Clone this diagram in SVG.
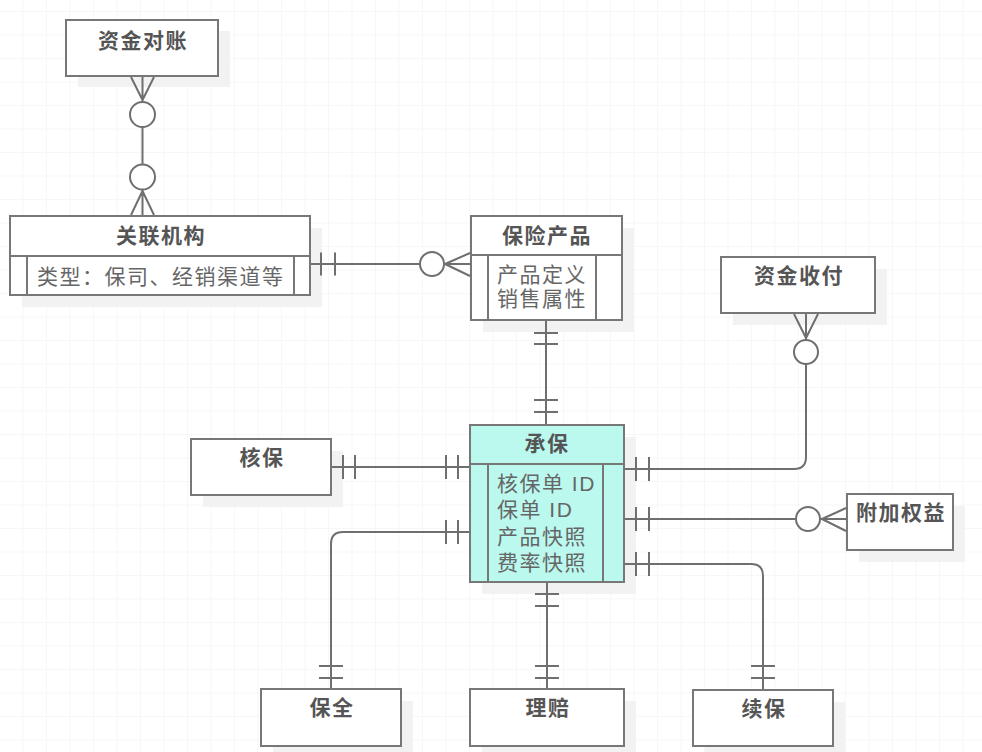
<svg xmlns="http://www.w3.org/2000/svg" width="982" height="752" viewBox="0 0 982 752">
<defs>
<pattern id="grid" x="0" y="12" width="23.5" height="23.5" patternUnits="userSpaceOnUse">
<path d="M23.5 0V23.5M0 23.5H23.5" fill="none" stroke="#f0f0f0" stroke-width="1"/>
</pattern>
<style>
.box{fill:#ffffff;stroke:#777777;stroke-width:2}
.hl{fill:#bbf9ef}
.sh{fill:#f2f2f2}
.ln{fill:none;stroke:#6f6f6f;stroke-width:2}
.dv{fill:none;stroke:#777777;stroke-width:2}
.ci{fill:#ffffff;stroke:#6f6f6f;stroke-width:2}
.t{font-family:"Noto Sans CJK SC","Noto Sans",sans-serif;font-size:21px;font-weight:bold;fill:#555555;text-anchor:middle;letter-spacing:1.5px}
.a{font-family:"Liberation Sans","Noto Sans CJK SC",sans-serif;font-size:21px;fill:#666666;letter-spacing:1.5px}
</style>
</defs>
<rect width="982" height="752" fill="#ffffff"/>
<rect width="982" height="752" fill="url(#grid)"/>

<g id="n-zijinduizhang">
<rect class="sh" x="78" y="31" width="152" height="56"/>
<rect class="box" x="66" y="20" width="152" height="56"/>
<text class="t" x="143" y="48">资金对账</text>
</g>

<g id="n-guanlianjigou">
<rect class="sh" x="22" y="228" width="300" height="79"/>
<rect class="box" x="10" y="216" width="300" height="79"/>
<path class="dv" d="M10 256H310M27 256V295M294 256V295"/>
<text class="t" x="161" y="243">关联机构</text>
<text class="a" x="37" y="284">类型：保司、经销渠道等</text>
</g>

<g id="n-baoxianchanpin">
<rect class="sh" x="483" y="228" width="151" height="104"/>
<rect class="box" x="471" y="216" width="151" height="104"/>
<path class="dv" d="M471 255H622M488 255V320M596 255V320"/>
<text class="t" x="547" y="243">保险产品</text>
<text class="a" x="497" y="282">产品定义<tspan x="497" dy="24">销售属性</tspan></text>
</g>

<g id="n-zijinshoufu">
<rect class="sh" x="733" y="269" width="154" height="56"/>
<rect class="box" x="721" y="257" width="154" height="56"/>
<text class="t" x="799" y="283">资金收付</text>
</g>

<g id="n-hebao">
<rect class="sh" x="203" y="451" width="140" height="56"/>
<rect class="box" x="191" y="439" width="140" height="56"/>
<text class="t" x="262" y="465">核保</text>
</g>

<g id="n-chengbao">
<rect class="sh" x="482" y="437" width="154" height="157"/>
<rect class="box hl" x="470" y="425" width="154" height="157"/>
<path class="dv" d="M470 464H624M488 464V582M603 464V582"/>
<text class="t" x="547" y="451">承保</text>
<text class="a" x="497" y="491">核保单 ID<tspan x="497" dy="26">保单 ID</tspan><tspan x="497" dy="26.5">产品快照</tspan><tspan x="497" dy="26">费率快照</tspan></text>
</g>

<g id="n-fujiaquanyi">
<rect class="sh" x="859" y="506" width="106" height="56"/>
<rect class="box" x="847" y="494" width="106" height="56"/>
<text class="t" x="901" y="520">附加权益</text>
</g>

<g id="n-baoquan">
<rect class="sh" x="273" y="701" width="140" height="57"/>
<rect class="box" x="261" y="689" width="140" height="57"/>
<text class="t" x="332" y="715">保全</text>
</g>

<g id="n-lipei">
<rect class="sh" x="482" y="701" width="154" height="57"/>
<rect class="box" x="470" y="689" width="154" height="57"/>
<text class="t" x="548" y="715">理赔</text>
</g>

<g id="n-xubao">
<rect class="sh" x="705" y="702" width="140" height="56"/>
<rect class="box" x="693" y="690" width="140" height="56"/>
<text class="t" x="764" y="716">续保</text>
</g>

<g id="connectors">
<!-- 资金对账 - 关联机构 -->
<path class="ln" d="M142.5 100L131 77M142.5 100L154 77M142.5 77V102"/>
<path class="ln" d="M142.5 127V164.5"/>
<circle class="ci" cx="142.5" cy="114.5" r="12.5"/>
<circle class="ci" cx="142.5" cy="177" r="12.5"/>
<path class="ln" d="M142.5 191L131 215M142.5 191L154 215M142.5 189.5V215"/>
<!-- 关联机构 - 保险产品 -->
<path class="ln" d="M311 264H420M321 252.5V275.5M335 252.5V275.5"/>
<circle class="ci" cx="432" cy="264" r="12"/>
<path class="ln" d="M445 264L470 253M445 264L470 276M444 264H470"/>
<!-- 保险产品 - 承保 -->
<path class="ln" d="M546 321V424M534 333H558M534 344H558M534 400H558M534 412H558"/>
<!-- 资金收付 - 承保 -->
<path class="ln" d="M806 338L794 314M806 338L818 314M806 314V340"/>
<circle class="ci" cx="806" cy="352" r="12"/>
<path class="ln" d="M806 364V457Q806 469 794 469H625"/>
<path class="ln" d="M636 457V481M649 457V481"/>
<!-- 核保 - 承保 -->
<path class="ln" d="M332 467H469M343 455V479M355 455V479M446 455V479M458 455V479"/>
<!-- 附加权益 - 承保 -->
<path class="ln" d="M625 519H796M636 507V531M649 507V531"/>
<circle class="ci" cx="808" cy="519" r="12"/>
<path class="ln" d="M822 519L846 508M822 519L846 531M820 519H846"/>
<!-- 保全 - 承保 -->
<path class="ln" d="M469 532H343Q331 532 331 544V688"/>
<path class="ln" d="M446 520V544M458 520V544M319 666H343M319 678H343"/>
<!-- 续保 - 承保 -->
<path class="ln" d="M625 564H751Q763 564 763 576V689"/>
<path class="ln" d="M636 552V576M649 552V576M751 666H775M751 678H775"/>
<!-- 理赔 - 承保 -->
<path class="ln" d="M547 583V688M535 594H559M535 606H559M535 666H559M535 678H559"/>
</g>
</svg>
